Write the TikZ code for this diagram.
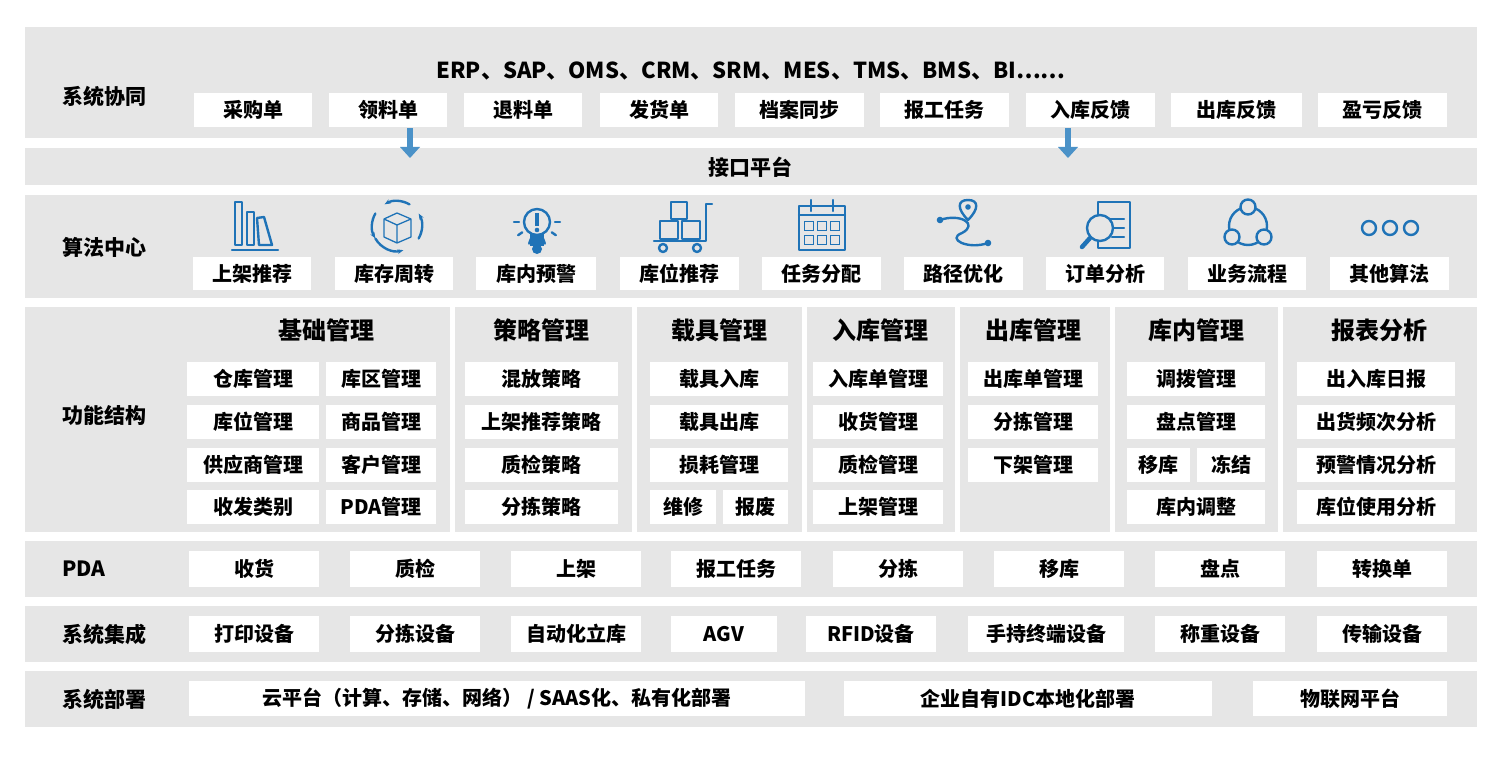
\documentclass[tikz,border=0pt]{standalone}
\usepackage{fontspec}
\setmainfont{Noto Sans CJK SC Black}
\usetikzlibrary{arrows.meta}
\definecolor{bandgray}{HTML}{E6E6E6}
\definecolor{iconblue}{HTML}{1F73B7}
\definecolor{arrblue}{HTML}{4B92C8}
\tikzset{
  band/.style={fill=bandgray,draw=none},
  bx/.style={fill=white,draw=none,inner sep=0pt,font=\fontsize{20}{20}\selectfont,text=black},
  lbl/.style={font=\fontsize{21}{21}\selectfont,text=black,inner sep=0pt},
  hdr/.style={font=\fontsize{24}{24}\selectfont,text=black,inner sep=0pt},
  ic/.style={draw=iconblue,line width=2.4pt,line cap=round,line join=round},
  icf/.style={fill=iconblue,draw=none}
}
\newcommand\B[6]{\node[bx,minimum width={#4pt-#2pt},minimum height={#5pt-#3pt}] (#1) at ({(#2+#4)/2},{(#3+#5)/2}) {#6};}
\begin{document}
\begin{tikzpicture}[x=1pt,y=-1pt]
\useasboundingbox[fill=white] (0,0) rectangle (1500,770);
% bands
\fill[band] (25,27) rectangle (1477,138);
\fill[band] (25,148) rectangle (1477,185);
\fill[band] (25,195) rectangle (1477,298);
\fill[band] (25,307) rectangle (450,532);
\fill[band] (455,307) rectangle (632,532);
\fill[band] (637,307) rectangle (802,532);
\fill[band] (807,307) rectangle (955,532);
\fill[band] (960,307) rectangle (1110,532);
\fill[band] (1115,307) rectangle (1278,532);
\fill[band] (1283,307) rectangle (1477,532);
\fill[band] (25,541) rectangle (1477,597);
\fill[band] (25,606) rectangle (1477,662);
\fill[band] (25,671) rectangle (1477,727);
% row labels
\node[lbl] (l1) at (104,97) {系统协同};
\node[lbl] (l3) at (104,247) {算法中心};
\node[lbl] (l4) at (104,415) {功能结构};
\node[lbl] (l5) at (84,569) {PDA};
\node[lbl] (l6) at (104,634) {系统集成};
\node[lbl] (l7) at (104,699) {系统部署};
% row 1
\node[font=\fontsize{22}{22}\selectfont,inner sep=0pt] (sys) at (751,71) {ERP、SAP、OMS、CRM、SRM、MES、TMS、BMS、BI……};
\B{a1}{194}{93}{312}{127}{采购单}
\B{a2}{329}{93}{447}{127}{领料单}
\B{a3}{464}{93}{582}{127}{退料单}
\B{a4}{600}{93}{718}{127}{发货单}
\B{a5}{735}{93}{864}{127}{档案同步}
\B{a6}{880}{93}{1009}{127}{报工任务}
\B{a7}{1026}{93}{1155}{127}{入库反馈}
\B{a8}{1171}{93}{1302}{127}{出库反馈}
\B{a9}{1318}{93}{1447}{127}{盈亏反馈}
% row 2
\node[lbl] (ifc) at (750,167) {接口平台};
\coordinate (ar1) at (410,158);
\coordinate (ar2) at (1068,158);
\fill[arrblue] (407,128) rectangle (413,148);
\fill[arrblue] (400,147) -- (420,147) -- (ar1) -- cycle;
\fill[arrblue] (1065,128) rectangle (1071,148);
\fill[arrblue] (1058,147) -- (1078,147) -- (ar2) -- cycle;
% row 3 boxes
\B{b1}{193}{257}{311}{290}{上架推荐}
\B{b2}{335}{257}{453}{290}{库存周转}
\B{b3}{476}{257}{596}{290}{库内预警}
\B{b4}{620}{257}{739}{290}{库位推荐}
\B{b5}{762}{257}{881}{290}{任务分配}
\B{b6}{904}{257}{1023}{290}{路径优化}
\B{b7}{1046}{257}{1164}{290}{订单分析}
\B{b8}{1188}{257}{1306}{290}{业务流程}
\B{b9}{1330}{257}{1449}{290}{其他算法}
% icons
% 1 books
\begin{scope}[shift={(254,226)}]
\draw[ic] (-22,24) -- (24,24);
\draw[ic] (-19,19) -- (-19,-24) -- (-12,-24) -- (-12,19) -- cycle;
\draw[ic] (-7,19) -- (-7,-14) -- (0,-14) -- (0,19) -- cycle;
\draw[ic] (5,19) -- (3,-8) -- (10,-9) -- (18,19) -- cycle;
\end{scope}
% 2 box cycle
\begin{scope}[shift={(397,226)}]
\draw[ic,-{Stealth[length=6pt]}] (150:25) arc (150:75:25);
\draw[ic,-{Stealth[length=6pt]}] (30:25) arc (30:-30:25);
\draw[ic,-{Stealth[length=6pt]}] (-60:25) arc (-60:-120:25);
\draw[ic,-{Stealth[length=6pt]}] (-150:25) arc (-150:-210:25);
\draw[draw=iconblue,line width=1.3pt,line join=round] (-13,-7) -- (0,-13) -- (14,-7) -- (14,11) -- (0,17) -- (-13,11) -- cycle (-13,-7) -- (0,-1) -- (14,-7) (0,-1) -- (0,17);
\end{scope}
% 3 bulb
\begin{scope}[shift={(537,222)}]
\draw[ic] (0,0) circle (13);
\fill[icf] (-7,12) rectangle (7,24);
\fill[icf] (0,27) circle (5);
\fill[icf] (-2.2,-9) rectangle (2.2,4);
\fill[icf] (0,8) circle (2.3);
\foreach \a in {0,35,70,110,145,180}{\draw[ic] (\a:18) -- (\a:23);}
\end{scope}
% 4 cart
\begin{scope}[shift={(680,226)}]
\draw[ic] (-26,15) -- (26,15) -- (26,-22) -- (32,-22);
\draw[ic] (-20,-5) rectangle (-2,13);
\draw[ic] (2,-5) rectangle (20,13);
\draw[ic] (-9,-24) rectangle (7,-7);
\draw[ic] (-17,22) circle (4);
\draw[ic] (17,22) circle (4);
\end{scope}
% 5 calendar
\begin{scope}[shift={(822,226)}]
\draw[ic] (-23,-20) rectangle (23,24);
\draw[ic] (-23,-11) -- (23,-11);
\draw[ic] (-11,-26) -- (-11,-15) (11,-26) -- (11,-15);
\foreach \x in {-13,0,13}{\foreach \y in {0,14}{\draw[draw=iconblue,line width=1.4pt] (\x-4.5,\y-4.5) rectangle (\x+4.5,\y+4.5);}}
\end{scope}
% 6 route
\begin{scope}[shift={(964,226)}]
\draw[ic] (-24,-6) .. controls (-4,-13) and (15,-2) .. (-2,7) .. controls (-18,13) and (4,24) .. (24,17);
\draw[ic,fill=bandgray] (4,-6) .. controls (-7,-17) and (-7,-26) .. (4,-26) .. controls (15,-26) and (15,-17) .. (4,-6) -- cycle;
\fill[icf] (4,-19) circle (2.8);
\fill[icf] (-24,-6) circle (3.3);
\fill[icf] (24,17) circle (3.3);
\end{scope}
% 7 magnifier doc
\begin{scope}[shift={(1106,226)}]
\draw[ic] (-8,-24) rectangle (24,22);
\draw[ic] (2,-7) -- (18,-7) (6,2) -- (18,2) (6,11) -- (18,11);
\draw[ic,fill=bandgray] (-6,2) circle (13);
\draw[line width=4.5pt,draw=iconblue,line cap=round] (-16,12) -- (-24,21);
\end{scope}
% 8 flow
\begin{scope}[shift={(1248,226)}]
\draw[ic] (0,0) circle (19);
\draw[ic,fill=bandgray] (0,-19) circle (7.5);
\draw[ic,fill=bandgray] (-16,11) circle (7.5);
\draw[ic,fill=bandgray] (16,11) circle (7.5);
\end{scope}
% 9 dots
\begin{scope}[shift={(1390,228)}]
\draw[ic] (-21,0) circle (7) (0,0) circle (7) (21,0) circle (7);
\end{scope}
% row 4 headers
\node[hdr] (h1) at (326,330) {基础管理};
\node[hdr] (h2) at (541,330) {策略管理};
\node[hdr] (h3) at (719,330) {载具管理};
\node[hdr] (h4) at (880,330) {入库管理};
\node[hdr] (h5) at (1033,330) {出库管理};
\node[hdr] (h6) at (1196,330) {库内管理};
\node[hdr] (h7) at (1379,330) {报表分析};
% 基础管理
\B{c11}{187}{362}{319}{396}{仓库管理}
\B{c12}{326}{362}{436}{396}{库区管理}
\B{c13}{187}{405}{319}{439}{库位管理}
\B{c14}{326}{405}{436}{439}{商品管理}
\B{c15}{187}{448}{319}{482}{供应商管理}
\B{c16}{326}{448}{436}{482}{客户管理}
\B{c17}{187}{490}{319}{524}{收发类别}
\B{c18}{326}{490}{436}{524}{PDA管理}
% 策略
\B{c21}{465}{362}{618}{396}{混放策略}
\B{c22}{465}{405}{618}{439}{上架推荐策略}
\B{c23}{465}{448}{618}{482}{质检策略}
\B{c24}{465}{490}{618}{524}{分拣策略}
% 载具
\B{c31}{650}{362}{788}{396}{载具入库}
\B{c32}{650}{405}{788}{439}{载具出库}
\B{c33}{650}{448}{788}{482}{损耗管理}
\B{c34}{650}{490}{716}{524}{维修}
\B{c35}{723}{490}{788}{524}{报废}
% 入库
\B{c41}{813}{362}{943}{396}{入库单管理}
\B{c42}{813}{405}{943}{439}{收货管理}
\B{c43}{813}{448}{943}{482}{质检管理}
\B{c44}{813}{490}{943}{524}{上架管理}
% 出库
\B{c51}{968}{362}{1098}{396}{出库单管理}
\B{c52}{968}{405}{1098}{439}{分拣管理}
\B{c53}{968}{448}{1098}{482}{下架管理}
% 库内
\B{c61}{1127}{362}{1265}{396}{调拨管理}
\B{c62}{1127}{405}{1265}{439}{盘点管理}
\B{c63}{1127}{448}{1190}{482}{移库}
\B{c64}{1197}{448}{1265}{482}{冻结}
\B{c65}{1127}{490}{1265}{524}{库内调整}
% 报表
\B{c71}{1297}{362}{1455}{396}{出入库日报}
\B{c72}{1297}{405}{1455}{439}{出货频次分析}
\B{c73}{1297}{448}{1455}{482}{预警情况分析}
\B{c74}{1297}{490}{1455}{524}{库位使用分析}
% PDA
\B{d1}{189}{551}{319}{587}{收货}
\B{d2}{350}{551}{480}{587}{质检}
\B{d3}{511}{551}{641}{587}{上架}
\B{d4}{671}{551}{801}{587}{报工任务}
\B{d5}{833}{551}{963}{587}{分拣}
\B{d6}{994}{551}{1124}{587}{移库}
\B{d7}{1155}{551}{1285}{587}{盘点}
\B{d8}{1317}{551}{1447}{587}{转换单}
% 集成
\B{e1}{189}{616}{319}{652}{打印设备}
\B{e2}{350}{616}{480}{652}{分拣设备}
\B{e3}{511}{616}{641}{652}{自动化立库}
\B{e4}{671}{616}{777}{652}{AGV}
\B{e5}{806}{616}{936}{652}{RFID设备}
\B{e6}{968}{616}{1124}{652}{手持终端设备}
\B{e7}{1155}{616}{1285}{652}{称重设备}
\B{e8}{1317}{616}{1447}{652}{传输设备}
% 部署
\B{f1}{189}{681}{805}{716}{云平台（计算、存储、网络） / SAAS化、私有化部署}
\B{f2}{844}{681}{1212}{716}{企业自有IDC本地化部署}
\B{f3}{1253}{681}{1447}{716}{物联网平台}
\end{tikzpicture}
\end{document}
